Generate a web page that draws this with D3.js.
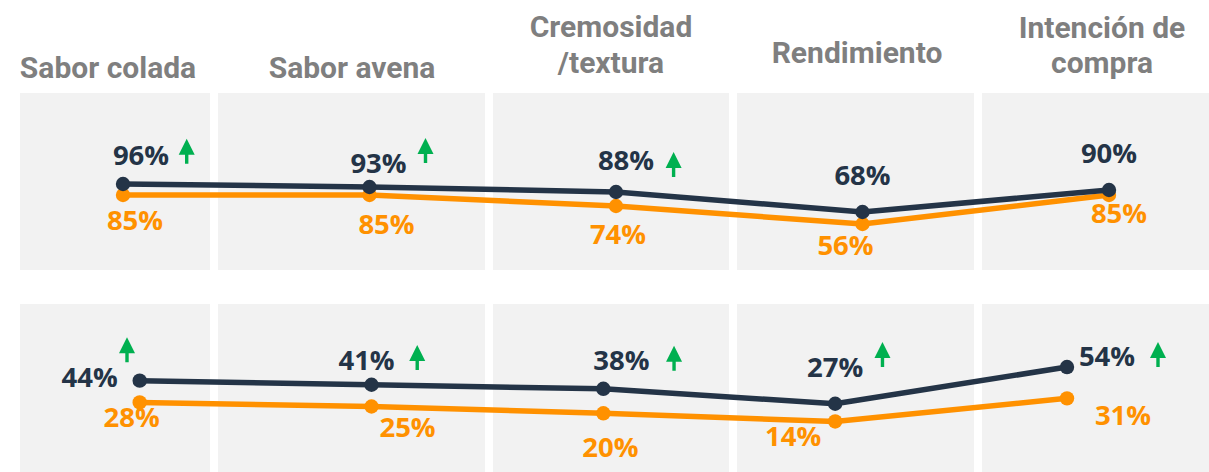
<!DOCTYPE html>
<html>
<head>
<meta charset="utf-8">
<script src="https://cdn.jsdelivr.net/npm/d3@7"></script>
<style>
  html, body { margin: 0; padding: 0; background: #ffffff; }
  svg { display: block; }
</style>
</head>
<body>
<svg id="chart" width="1209" height="472"></svg>
<script>
// Attribute names (two-line names are split at "\n")
const categories = ["Sabor colada", "Sabor avena", "Cremosidad\n/textura", "Rendimiento", "Intención de\ncompra"];

// Upper block: percentages for the two series
const topDark   = [96, 93, 88, 68, 90];
const topOrange = [85, 85, 74, 56, 85];
// Upper block: significant increase markers for the dark series
const topUp     = [true, true, true, false, false];

// Lower block: percentages for the two series
const bottomDark   = [44, 41, 38, 27, 54];
const bottomOrange = [28, 25, 20, 14, 31];
// Lower block: significant increase markers for the dark series
const bottomUp     = [true, true, true, true, true];

// ---- drawing ----
const W = 1209, H = 472;
const COLORS = { dark: "#243447", orange: "#ff9100", green: "#00b050", panel: "#f2f2f2", header: "#7f7f7f" };

const svg = d3.select("#chart");

// Column backgrounds (x extents of each attribute column)
const columns = [[20, 210], [218, 485], [493, 729], [737, 974], [982, 1209]];

// Column headers
const headerPos = [
  { x: 108, y: 78 }, { x: 352, y: 78 }, { x: 611, y: 37 }, { x: 857, y: 63 }, { x: 1102, y: 37.5 }
];
const headerG = svg.append("g");
categories.forEach((c, i) => {
  const t = headerG.append("text")
    .attr("x", headerPos[i].x)
    .attr("y", headerPos[i].y)
    .attr("text-anchor", "middle")
    .attr("font-family", "Roboto, 'Open Sans', sans-serif")
    .attr("font-weight", 700)
    .attr("font-size", 30)
    .attr("fill", COLORS.header);
  c.split("\n").forEach((line, k) => {
    t.append("tspan").attr("x", headerPos[i].x).attr("dy", k === 0 ? 0 : 35.5).text(line);
  });
});

// Up-arrow glyph, drawn with its tip at (0,0)
function arrowPath() {
  return "M0,0 L8,16 L1.7,16 L1.7,25 L-1.7,25 L-1.7,16 L-8,16 Z";
}

function drawBlock(cfg) {
  const g = svg.append("g");

  g.selectAll("rect.col")
    .data(columns)
    .join("rect")
    .attr("class", "col")
    .attr("x", d => d[0])
    .attr("y", cfg.top)
    .attr("width", d => d[1] - d[0])
    .attr("height", cfg.bottom - cfg.top)
    .attr("fill", COLORS.panel);

  const x = d3.scalePoint().domain(categories).range(cfg.xRange).padding(0);
  const y = d3.scaleLinear().domain([0, 100]).range(cfg.yRange);

  const line = d3.line()
    .x((d, i) => x(categories[i]))
    .y(d => y(d));

  const series = [
    { values: cfg.orange, color: COLORS.orange, offsets: cfg.orangeLabel },
    { values: cfg.dark, color: COLORS.dark, offsets: cfg.darkLabel }
  ];

  series.forEach(s => {
    g.append("path")
      .datum(s.values)
      .attr("d", line)
      .attr("fill", "none")
      .attr("stroke", s.color)
      .attr("stroke-width", 5.5)
      .attr("stroke-linejoin", "round");

    g.selectAll(null)
      .data(s.values)
      .join("circle")
      .attr("cx", (d, i) => x(categories[i]))
      .attr("cy", d => y(d))
      .attr("r", 7.2)
      .attr("fill", s.color);
  });

  series.forEach(s => {
    g.selectAll(null)
      .data(s.values)
      .join("text")
      .attr("x", (d, i) => x(categories[i]) + s.offsets[i][0])
      .attr("y", (d, i) => y(d) + s.offsets[i][1])
      .attr("text-anchor", "middle")
      .attr("font-family", "'Open Sans', 'Noto Sans', sans-serif")
      .attr("font-weight", 700)
      .attr("font-size", 27.5)
      .attr("fill", s.color)
      .text(d => d + "%");
  });

  g.selectAll(null)
    .data(cfg.dark.map((v, i) => ({ v, i, up: cfg.up[i] })).filter(d => d.up))
    .join("path")
    .attr("d", arrowPath())
    .attr("transform", d => `translate(${x(categories[d.i]) + cfg.arrow[d.i][0]},${y(d.v) + cfg.arrow[d.i][1]})`)
    .attr("fill", COLORS.green);
}

drawBlock({
  top: 93, bottom: 270,
  xRange: [123, 1109], yRange: [280, 180],
  dark: topDark, orange: topOrange, up: topUp,
  darkLabel:   [[18, -19], [9, -14], [10, -22], [0, -27], [0, -27]],
  orangeLabel: [[12, 35], [17, 39], [2, 38], [-17, 31], [10, 28]],
  arrow: [[63.7, -45.3], [56, -49], [57.6, -40], [0, 0], [0, 0]]
});

drawBlock({
  top: 304, bottom: 472,
  xRange: [139.7, 1067], yRange: [440.5, 304.5],
  dark: bottomDark, orange: bottomOrange, up: bottomUp,
  darkLabel:   [[-50, 6.6], [-5, -15], [18, -19], [0, -27], [40, -0.6]],
  orangeLabel: [[-8, 25], [36, 30], [7, 44], [-42, 25], [56, 27]],
  arrow: [[-12.7, -43.4], [45.7, -39.7], [70.7, -43], [47.3, -61.7], [91, -25]]
});
</script>
</body>
</html>
